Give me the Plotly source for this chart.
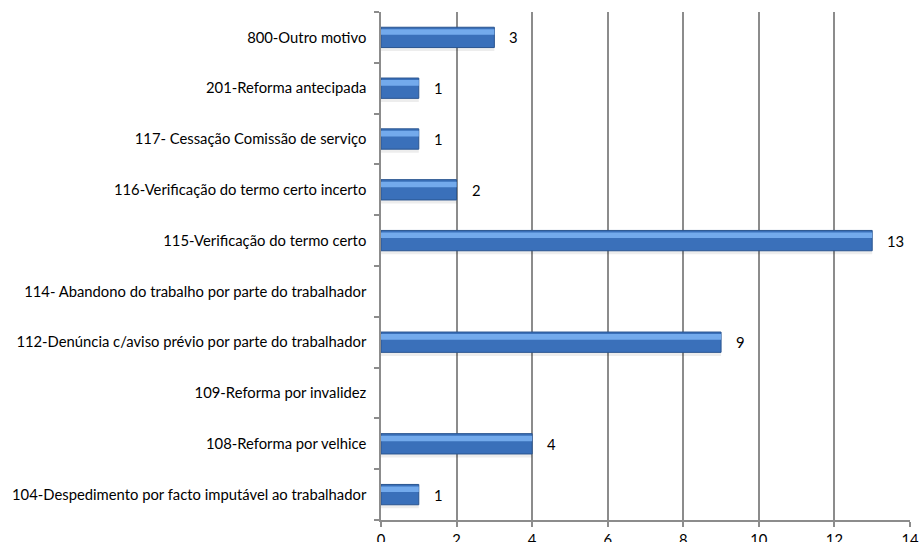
import plotly.graph_objects as go

# categories listed bottom to top
categories = [
    "104-Despedimento por facto imputável ao trabalhador",
    "108-Reforma por velhice",
    "109-Reforma por invalidez",
    "112-Denúncia c/aviso prévio por parte do trabalhador",
    "114- Abandono do trabalho por parte do trabalhador",
    "115-Verificação do termo certo",
    "116-Verificação do termo certo incerto",
    "117- Cessação Comissão de serviço",
    "201-Reforma antecipada",
    "800-Outro motivo",
]
values = [1, 4, None, 9, None, 13, 2, 1, 1, 3]
x_ticks = [0, 2, 4, 6, 8, 10, 12, 14]

FONT = "Lato, 'Open Sans', sans-serif"
GRID = "#8c8c8c"

fig = go.Figure()

# soft shadow under each bar
fig.add_trace(go.Bar(
    y=categories, x=values, orientation="h",
    width=0.42, offset=-0.27,
    marker=dict(color="rgba(0,0,0,0.07)", line=dict(width=0)),
    hoverinfo="skip", showlegend=False,
))
# main bar
fig.add_trace(go.Bar(
    y=categories, x=values, orientation="h",
    width=0.4, offset=-0.2,
    marker=dict(color="#3a70ba", line=dict(color="#2a5590", width=1)),
    showlegend=False,
))
# light highlight along the upper edge
fig.add_trace(go.Bar(
    y=categories, x=values, orientation="h",
    width=0.11, offset=0.05,
    marker=dict(color="#73aaec", line=dict(width=0)),
    hoverinfo="skip", showlegend=False,
))

annotations = []
for cat, val in zip(categories, values):
    if val is None:
        continue
    annotations.append(dict(
        x=val, y=cat, xref="x", yref="y", text=str(val),
        showarrow=False, xanchor="left", xshift=13,
        font=dict(family=FONT, size=14.8, color="#000000"),
    ))

fig.update_layout(
    barmode="overlay",
    width=919, height=542,
    margin=dict(l=381, r=9, t=12, b=22),
    plot_bgcolor="white", paper_bgcolor="white",
    font=dict(family=FONT, size=14.8, color="#000000"),
    annotations=annotations,
    xaxis=dict(
        range=[0, 14], tickvals=x_ticks,
        showgrid=True, gridcolor=GRID, gridwidth=1.5,
        showline=True, linecolor=GRID, linewidth=1.5,
        ticks="outside", ticklen=5, tickcolor=GRID, tickwidth=1.5,
        zeroline=False, fixedrange=True, automargin=False,
    ),
    yaxis=dict(
        categoryorder="array", categoryarray=categories,
        showgrid=False,
        showline=True, linecolor=GRID, linewidth=1.5,
        ticks="outside", ticklen=5, tickcolor=GRID, tickwidth=1.5,
        tickson="boundaries", ticklabelstandoff=10,
        fixedrange=True, automargin=False,
    ),
)

# drop the default body margin so the figure fills the window exactly
fig.write_html(
    "out.html",
    config={"displayModeBar": False},
    post_script="document.body.style.margin='0';document.body.style.overflow='hidden';",
)
